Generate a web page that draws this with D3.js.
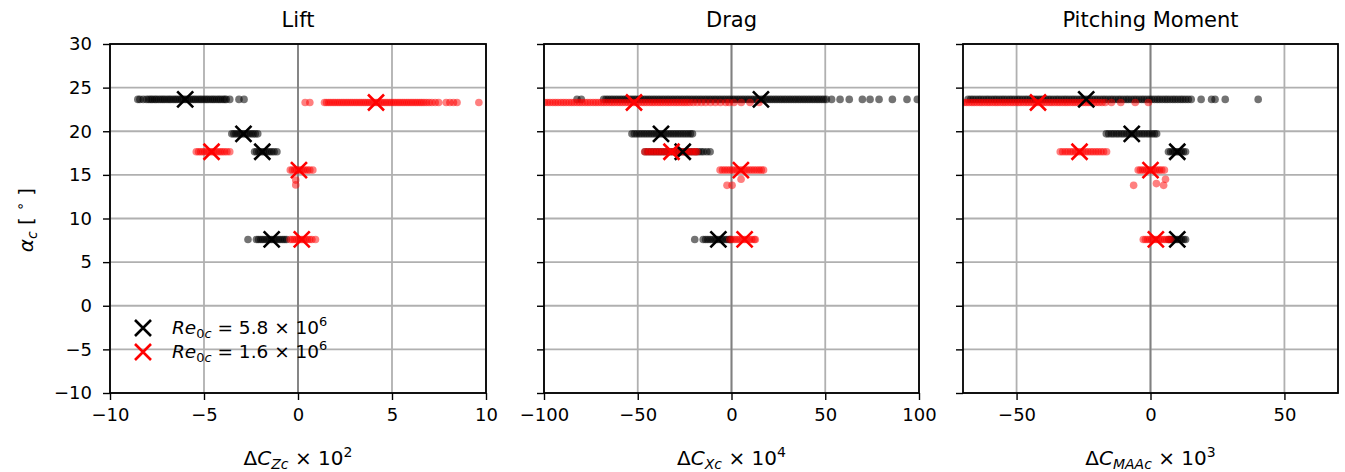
<!DOCTYPE html>
<html>
<head>
<meta charset="utf-8">
<title>Lift / Drag / Pitching Moment</title>
<script src="https://d3js.org/d3.v7.min.js"></script>
<style>
  body { margin: 0; background: #fff; }
  svg text { font-family: "DejaVu Sans", sans-serif; fill: #000; }
</style>
</head>
<body>
<div id="chart"></div>
<script>
// ---- data ----
var titles = ["Lift", "Drag", "Pitching Moment"];
var yTicks = [-10, -5, 0, 5, 10, 15, 20, 25, 30];
var liftTicks = [-10, -5, 0, 5, 10];
var dragTicks = [-100, -50, 0, 50, 100];
var pitchTicks = [-50, 0, 50];

// angle of attack of each cluster (deg)
var alphaBlack = [23.65, 19.7, 17.65, 7.6];
var alphaRed = [23.3, 17.65, 15.55, 7.6];

// mean values (the x markers)
var liftBlackMean = [-6.0, -2.9, -1.9, -1.4];
var liftRedMean = [4.15, -4.6, 0.05, 0.2];
var dragBlackMean = [15.7, -37.6, -26, -7];
var dragRedMean = [-52, -32, 5, 7];
var pitchBlackMean = [-24, -7, 10, 10];
var pitchRedMean = [-42, -26.5, 0, 2];

// individual samples, one array per alpha level
var liftBlack = [
  [-8.52,-8.41,-8.23,-8.06,-7.94,-7.83,-7.74,-7.62,-7.53,-7.41,-7.3,-7.19,-7.09,-6.97,-6.86,-6.76,-6.64,-6.53,-6.43,-6.31,-6.2,-6.1,-5.98,-5.87,-5.77,-5.65,-5.54,-5.44,-5.32,-5.21,-5.11,-4.99,-4.88,-4.78,-4.66,-4.55,-4.45,-4.33,-4.22,-4.12,-4.0,-3.9,-3.82,-3.63,-3.14,-2.87],
  [-3.52,-3.41,-3.3,-3.18,-3.07,-2.96,-2.84,-2.73,-2.62,-2.5,-2.39,-2.27,-2.14],
  [-2.31,-2.2,-2.08,-1.97,-1.85,-1.74,-1.62,-1.51,-1.39,-1.27,-1.12],
  [-2.66,-2.21,-2.1,-1.98,-1.87,-1.75,-1.64,-1.52,-1.41,-1.29,-1.18,-1.06,-0.95,-0.83,-0.72,-0.61]
];
var liftRed = [
  [0.38,0.63,1.41,1.52,1.64,1.75,1.87,1.98,2.1,2.21,2.33,2.44,2.56,2.67,2.79,2.9,3.02,3.13,3.25,3.36,3.48,3.59,3.71,3.82,3.94,4.05,4.17,4.28,4.4,4.51,4.63,4.74,4.86,4.97,5.09,5.2,5.32,5.43,5.55,5.66,5.78,5.89,6.01,6.12,6.24,6.35,6.47,6.58,6.7,6.83,6.97,7.12,7.3,7.48,7.88,8.08,8.27,8.46,9.62],
  [-5.41,-5.29,-5.18,-5.06,-4.95,-4.83,-4.72,-4.6,-4.49,-4.37,-4.26,-4.14,-4.03,-3.91,-3.78,-3.63],
  [-0.41,-0.3,-0.18,-0.07,0.05,0.16,0.28,0.39,0.51,0.63,0.79],
  [-0.42,-0.3,-0.19,-0.07,0.04,0.16,0.27,0.39,0.5,0.62,0.74,0.93]
];
var liftRedLow = [[-0.12, 14.4], [-0.12, 13.85]];

var dragBlack = [
  [-82.4,-80.1,-68.2,-66.9,-65.7,-64.4,-63.2,-61.9,-60.7,-59.4,-58.2,-56.9,-55.7,-54.4,-53.2,-51.9,-50.7,-49.4,-48.2,-46.9,-45.7,-44.4,-43.2,-41.9,-40.7,-39.4,-38.2,-36.9,-35.7,-34.4,-33.2,-31.9,-30.7,-29.4,-28.2,-26.9,-25.7,-24.4,-23.2,-21.9,-20.7,-19.4,-18.2,-16.9,-15.7,-14.4,-13.2,-11.9,-10.7,-9.4,-8.2,-6.9,-5.7,-4.4,-3.2,-1.9,-0.7,0.6,1.8,3.1,4.3,5.6,6.8,8.1,9.3,10.6,11.8,13.1,14.3,15.6,16.8,18.1,19.3,20.6,21.8,23.1,24.3,25.6,26.8,28.1,29.3,30.6,31.8,33.1,34.3,35.6,36.8,38.1,39.3,40.6,41.8,43.1,44.3,45.6,46.8,48.1,49.3,50.6,53.4,57.9,62.8,69.8,73.9,78.7,85.8,93.6,99.1],
  [-53.1,-51.8,-50.5,-49.2,-47.9,-46.6,-45.3,-44,-42.7,-41.4,-40.1,-38.8,-37.5,-36.2,-34.9,-33.6,-32.3,-31,-29.7,-28.4,-27.1,-25.8,-24.5,-23.2,-21.9,-20.8],
  [-46.1,-44.6,-43.1,-41.6,-40.1,-38.6,-37.1,-35.6,-34.1,-32.6,-31.1,-29.6,-28.1,-26.6,-25.1,-23.6,-22.1,-20.6,-19.1,-17.6,-16.2,-14.9,-13.1,-11.4],
  [-19.6,-15.1,-13.8,-12.6,-11.3,-10.1,-8.8,-7.6,-6.3,-5.1,-3.8,-2.6,-1.3,-0.6]
];
var dragRed = [
  [-99.6,-98.2,-96.8,-95.3,-93.9,-92.5,-91,-89.6,-88.2,-86.7,-85.3,-83.9,-82.4,-81,-79.6,-78.1,-76.7,-75.3,-73.8,-72.4,-71,-69.5,-68.1,-66.7,-65.2,-63.8,-62.4,-60.9,-59.5,-58.1,-56.6,-55.2,-53.8,-52.3,-50.9,-49.5,-48,-46.6,-45.2,-43.7,-42.3,-40.9,-39.4,-38,-36.6,-35.1,-33.7,-32.3,-30.8,-29.4,-28,-26.5,-25.1,-23.7,-22.2,-20.4,-18.3,-16.1,-13.8,-11.2,-8.6,-5.9,-3.1,-1.2,1.3,5.2,9.9,14.7],
  [-46.3,-44.9,-43.6,-42.2,-40.9,-39.5,-38.2,-36.8,-35.5,-34.1,-32.8,-31.4,-30.1,-28.7,-27.4,-26,-24.7,-23.3,-22,-20.6,-19.3,-18.5],
  [-6.1,-4.8,-3.5,-2.2,-0.9,0.4,1.7,3,4.3,5.6,6.9,8.2,9.5,10.8,12.1,13.4,14.7,15.9,17.1],
  [-0.9,0.4,1.7,3,4.3,5.6,6.9,8.2,9.5,10.8,12.1,12.7]
];
var dragRedLow = [[-2.4, 13.8], [0.3, 13.8], [5.1, 14.5]];

var pitchBlack = [
  [-68.1,-67.1,-66.2,-65.2,-64.2,-63.3,-62.3,-61.3,-60.4,-59.4,-58.4,-57.5,-56.5,-55.5,-54.6,-53.6,-52.6,-51.7,-50.7,-49.7,-48.8,-47.8,-46.8,-45.9,-44.9,-43.9,-43,-42,-41,-40.1,-39.1,-38.1,-37.2,-36.2,-35.2,-34.3,-33.3,-32.3,-31.4,-30.4,-29.4,-28.5,-27.5,-26.5,-25.6,-24.6,-23.6,-22.7,-21.7,-20.7,-19.8,-18.8,-17.8,-16.9,-15.9,-14.9,-14,-13,-12,-11.1,-10.1,-9.1,-8.2,-7.2,-6.2,-5.3,-4.3,-3.3,-2.4,-1.4,-0.4,0.5,1.5,2.5,3.4,4.4,5.4,6.3,7.3,8.3,9.2,10.2,11.2,12.1,13.1,14.1,15.2,18.9,22.8,24.1,27.9,40.2],
  [-16.5,-15.6,-14.6,-13.7,-12.7,-11.8,-10.8,-9.9,-8.9,-8,-7,-6.1,-5.1,-4.2,-3.2,-2.3,-1.3,-0.4,0.6,1.5,2.3],
  [6.7,7.5,8.3,9.1,9.9,10.7,11.5,12.3,13.1],
  [6.8,7.6,8.4,9.2,10,10.8,11.6,12.4,13.1]
];
var pitchRed = [
  [-70.6,-69.6,-68.7,-67.7,-66.7,-65.8,-64.8,-63.8,-62.9,-61.9,-60.9,-60,-59,-58,-57.1,-56.1,-55.1,-54.2,-53.2,-52.2,-51.3,-50.3,-49.3,-48.4,-47.4,-46.4,-45.5,-44.5,-43.5,-42.6,-41.6,-40.6,-39.7,-38.7,-37.7,-36.8,-35.8,-34.8,-33.9,-32.9,-31.9,-31,-30,-29,-28.1,-27.1,-26.1,-25.2,-24.2,-23.2,-22.3,-21.3,-20.3,-19.2,-18.1,-16.9,-14.6,-11.1,-5.7,-0.8],
  [-33.7,-32.8,-31.8,-30.9,-29.9,-29,-28,-27.1,-26.1,-25.2,-24.2,-23.3,-22.3,-21.4,-20.4,-19.5,-18.5,-17.5,-16.4],
  [-4.6,-3.8,-3,-2.2,-1.4,-0.6,0.2,1,1.8,2.6,3.4,4.2,5.2],
  [-2.7,-1.9,-1.1,-0.3,0.5,1.3,2.1,2.9,3.7,4.5,5.3,6.1,6.9,7.6]
];
var pitchRedLow = [[-6.3, 13.8], [2.2, 14.0], [4.9, 13.8], [5.6, 14.5]];

var legendLabels = ["5.8", "1.6"];

// ---- layout ----
var width = 1345, height = 472;
var plotTop = 44, plotBottom = 393;
var tickFont = 18, labelFont = 20, titleFont = 21, legendFont = 18.5;

var panels = [
  {x0: 110, x1: 486, domain: [-10, 10], ticks: liftTicks, title: titles[0], sub: "Zc", pow: "2",
   black: liftBlack, red: liftRed, low: liftRedLow, bm: liftBlackMean, rm: liftRedMean},
  {x0: 544, x1: 919, domain: [-100, 100], ticks: dragTicks, title: titles[1], sub: "Xc", pow: "4",
   black: dragBlack, red: dragRed, low: dragRedLow, bm: dragBlackMean, rm: dragRedMean},
  {x0: 963, x1: 1338, domain: [-70, 70], ticks: pitchTicks, title: titles[2], sub: "MAAc", pow: "3",
   black: pitchBlack, red: pitchRed, low: pitchRedLow, bm: pitchBlackMean, rm: pitchRedMean}
];

var svg = d3.select("#chart").append("svg")
    .attr("width", width)
    .attr("height", height);

var y = d3.scaleLinear().domain([-10, 30]).range([plotBottom, plotTop]);

function flat(groups, alphas) {
  var out = [];
  groups.forEach(function(g, i) {
    g.forEach(function(v) { out.push([v, alphas[i]]); });
  });
  return out;
}

function cross(sel, color) {
  sel.append("path")
    .attr("d", "M-8,-8L8,8M-8,8L8,-8")
    .attr("stroke", color)
    .attr("stroke-width", 2.6)
    .attr("fill", "none");
}

panels.forEach(function(p, idx) {
  var w = p.x1 - p.x0;
  var x = d3.scaleLinear().domain(p.domain).range([0, w]);
  var g = svg.append("g").attr("transform", "translate(" + p.x0 + ",0)");

  g.append("clipPath").attr("id", "clip" + idx)
    .append("rect").attr("x", 0).attr("y", plotTop).attr("width", w).attr("height", plotBottom - plotTop);

  // grid
  g.selectAll(".gx").data(p.ticks).enter().append("line")
    .attr("x1", d => x(d)).attr("x2", d => x(d))
    .attr("y1", plotTop).attr("y2", plotBottom)
    .attr("stroke", "#b0b0b0").attr("stroke-width", 1.8);
  g.selectAll(".gy").data(yTicks).enter().append("line")
    .attr("x1", 0).attr("x2", w)
    .attr("y1", d => y(d)).attr("y2", d => y(d))
    .attr("stroke", "#b0b0b0").attr("stroke-width", 1.8);

  // zero line
  g.append("line")
    .attr("x1", x(0)).attr("x2", x(0))
    .attr("y1", plotTop).attr("y2", plotBottom)
    .attr("stroke", "#808080").attr("stroke-width", 1.8);

  var pts = g.append("g").attr("clip-path", "url(#clip" + idx + ")");

  pts.selectAll(".b").data(flat(p.black, alphaBlack)).enter().append("circle")
    .attr("cx", d => x(d[0])).attr("cy", d => y(d[1]))
    .attr("r", 3.8).attr("fill", "#000").attr("fill-opacity", 0.55);

  pts.selectAll(".r").data(flat(p.red, alphaRed).concat(p.low)).enter().append("circle")
    .attr("cx", d => x(d[0])).attr("cy", d => y(d[1]))
    .attr("r", 3.8).attr("fill", "#ff0000").attr("fill-opacity", 0.5);

  pts.selectAll(".mb").data(p.bm).enter().append("g")
    .attr("transform", (d, i) => "translate(" + x(d) + "," + y(alphaBlack[i]) + ")")
    .call(cross, "#000");
  pts.selectAll(".mr").data(p.rm).enter().append("g")
    .attr("transform", (d, i) => "translate(" + x(d) + "," + y(alphaRed[i]) + ")")
    .call(cross, "#ff0000");

  // axes
  var xAxis = d3.axisBottom(x).tickValues(p.ticks).tickSize(7).tickPadding(8);
  var gx = g.append("g").attr("transform", "translate(0," + plotBottom + ")").call(xAxis);
  var yAxis = d3.axisLeft(y).tickValues(yTicks).tickSize(7).tickPadding(11);
  if (idx > 0) yAxis.tickFormat("");
  var gy = g.append("g").call(yAxis);
  [gx, gy].forEach(function(a) {
    a.select(".domain").remove();
    a.selectAll(".tick line").attr("stroke", "#000").attr("stroke-width", 1.4);
    a.selectAll(".tick text").attr("font-size", tickFont)
      .attr("font-family", "DejaVu Sans").attr("fill", "#000");
  });

  // frame
  g.append("rect")
    .attr("x", 0).attr("y", plotTop).attr("width", w).attr("height", plotBottom - plotTop)
    .attr("fill", "none").attr("stroke", "#000").attr("stroke-width", 1.8);

  // title
  g.append("text")
    .attr("x", w / 2).attr("y", 27)
    .attr("text-anchor", "middle")
    .attr("font-size", titleFont)
    .text(p.title);

  // x label
  var xl = g.append("text")
    .attr("x", w / 2).attr("y", 465)
    .attr("text-anchor", "middle")
    .attr("font-size", labelFont);
  xl.append("tspan").text("\u0394");
  xl.append("tspan").attr("font-style", "italic").text("C");
  xl.append("tspan").attr("font-style", "italic").attr("font-size", labelFont * 0.7).attr("dy", 4).text(p.sub);
  xl.append("tspan").attr("dy", -4).text(" \u00d7 10");
  xl.append("tspan").attr("font-size", labelFont * 0.7).attr("dy", -8).text(p.pow);
});

// y label
var yl = svg.append("text")
  .attr("transform", "translate(33,220) rotate(-90)")
  .attr("text-anchor", "middle")
  .attr("font-size", labelFont);
yl.append("tspan").attr("font-style", "italic").text("\u03b1");
yl.append("tspan").attr("font-style", "italic").attr("font-size", labelFont * 0.7).attr("dy", 4).text("c");
yl.append("tspan").attr("dy", -4).text(" [ ");
yl.append("tspan").attr("font-size", labelFont * 0.7).attr("dy", -8).text("\u2218");
yl.append("tspan").attr("dy", 8).text(" ]");

// legend (inside Lift panel)
var legColors = ["#000", "#ff0000"];
var leg = svg.append("g").attr("transform", "translate(143,328)");
legendLabels.forEach(function(v, i) {
  var row = leg.append("g").attr("transform", "translate(0," + (i * 24) + ")");
  row.call(cross, legColors[i]);
  var t = row.append("text").attr("x", 29).attr("y", 6).attr("font-size", legendFont);
  t.append("tspan").attr("font-style", "italic").text("Re");
  t.append("tspan").attr("font-size", legendFont * 0.7).attr("dy", 4).text("0");
  t.append("tspan").attr("font-size", legendFont * 0.7).attr("font-style", "italic").text("c");
  t.append("tspan").attr("dy", -4).text(" = " + v + " \u00d7 10");
  t.append("tspan").attr("font-size", legendFont * 0.7).attr("dy", -8).text("6");
});
</script>
</body>
</html>
